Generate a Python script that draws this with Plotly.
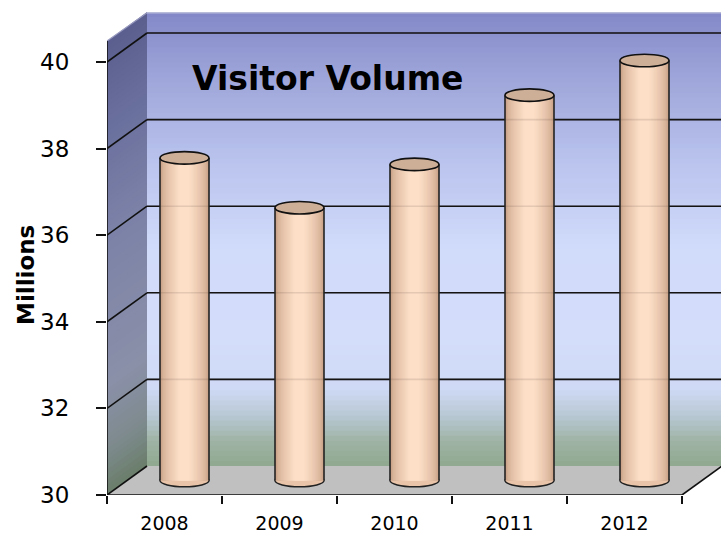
import plotly.graph_objects as go

# ---- data -------------------------------------------------------------
YEARS = [2008, 2009, 2010, 2011, 2012]
VISITORS = [37.45, 36.3, 37.3, 38.9, 39.7]      # millions of visitors
Y_TICKS = [30, 32, 34, 36, 38, 40]
TITLE = "Visitor Volume"
Y_TITLE = "Millions"

# ---- pseudo-3D scene geometry ----------------------------------------
FIG_W, FIG_H = 721, 537
ML, MR, MT, MB = 107, 0, 12, 42
PX_PER_CAT = 115.0          # horizontal pixels per category
PX_PER_UNIT = 43.3          # vertical pixels per million
Y_MIN = 30
X_MIN = YEARS[0] - 0.5
X_FRONT_MAX = YEARS[-1] + 0.5
X_MAX = X_MIN + (FIG_W - ML - MR) / PX_PER_CAT
Y_MAX = Y_MIN + (FIG_H - MT - MB) / PX_PER_UNIT
DX = 40 / PX_PER_CAT        # depth offset (x)
DY = 29 / PX_PER_UNIT       # depth offset (y)
WALL_TOP = Y_MAX - DY       # wall top in back-plane values
CYL_W = 49 / PX_PER_CAT
ELL_H = 12.5 / PX_PER_UNIT

BACK_STOPS = [(30.0, "#8fa88f"), (30.6, "#a0b4a6"), (31.1, "#b6c6d0"),
              (31.8, "#cfdaf6"), (33.0, "#d4defb"), (35.0, "#d1dbfa"),
              (37.0, "#bac4ee"), (39.0, "#9ea5d9"), (40.5, "#8288c7")]
SIDE_STOPS = [(30.0, "#6a7e6a"), (31.0, "#7d8a8c"), (32.5, "#8a90a8"),
              (36.0, "#7c82a7"), (38.5, "#6a709d"), (40.5, "#5a5e8e")]
CYL_EDGE = "#c89f85"
CYL_CENTER = "#fddfc7"
CYL_STEPS = 14


def hex2rgb(h):
    h = h.lstrip("#")
    return [int(h[i:i + 2], 16) for i in (0, 2, 4)]


def mix(ca, cb, t):
    c1, c2 = hex2rgb(ca), hex2rgb(cb)
    return "rgb(%d,%d,%d)" % tuple(round(p + (q - p) * t) for p, q in zip(c1, c2))


def grad(stops, v):
    if v <= stops[0][0]:
        return stops[0][1]
    for (a, ca), (b, cb) in zip(stops, stops[1:]):
        if a <= v <= b:
            return mix(ca, cb, (v - a) / (b - a))
    return stops[-1][1]


shapes = []
N = 90
step = (WALL_TOP - Y_MIN) / N
# back wall bands
for i in range(N):
    v0 = Y_MIN + i * step
    v1 = min(v0 + step * 1.6, WALL_TOP)
    shapes.append(dict(type="rect", layer="below", xref="x", yref="y",
                       x0=X_MIN + DX, x1=X_MAX, y0=v0 + DY, y1=v1 + DY,
                       fillcolor=grad(BACK_STOPS, v0 + step / 2), line_width=0))
# side wall bands (parallelograms)
for i in range(N):
    v0 = Y_MIN + i * step
    v1 = min(v0 + step * 1.6, WALL_TOP)
    path = "M %f %f L %f %f L %f %f L %f %f Z" % (
        X_MIN, v0, X_MIN + DX, v0 + DY, X_MIN + DX, v1 + DY, X_MIN, v1)
    shapes.append(dict(type="path", layer="below", xref="x", yref="y", path=path,
                       fillcolor=grad(SIDE_STOPS, v0 + step / 2), line_width=0))
# floor
shapes.append(dict(type="path", layer="below", xref="x", yref="y",
                   path="M %f %f L %f %f L %f %f L %f %f Z" % (
                       X_MIN, Y_MIN, X_FRONT_MAX, Y_MIN, X_FRONT_MAX + DX, Y_MIN + DY,
                       X_MIN + DX, Y_MIN + DY),
                   fillcolor="#c0c0c0", line_width=0))
# gridlines on back and side walls
for v in Y_TICKS:
    if v > Y_MIN:
        shapes.append(dict(type="line", layer="below", xref="x", yref="y",
                           x0=X_MIN + DX, x1=X_MAX, y0=v + DY, y1=v + DY,
                           line=dict(color="#111", width=1.6)))
    shapes.append(dict(type="line", layer="below", xref="x", yref="y",
                       x0=X_MIN, x1=X_MIN + DX, y0=v, y1=v + DY,
                       line=dict(color="#111", width=1.6)))
# wall top edges
shapes.append(dict(type="line", layer="below", xref="x", yref="y",
                   x0=X_MIN + DX, x1=X_MAX, y0=Y_MAX - 0.02, y1=Y_MAX - 0.02,
                   line=dict(color="#b8bcd8", width=1.5)))
shapes.append(dict(type="line", layer="below", xref="x", yref="y",
                   x0=X_MIN, x1=X_MIN + DX, y0=WALL_TOP, y1=Y_MAX - 0.02,
                   line=dict(color="#9a9cc0", width=1.2)))
# cylinder bottoms
for yr in YEARS:
    cx = yr + DX / 2
    cy = Y_MIN + DY / 2
    shapes.append(dict(type="circle", layer="below", xref="x", yref="y",
                       x0=cx - CYL_W / 2, x1=cx + CYL_W / 2,
                       y0=cy - ELL_H / 2, y1=cy + ELL_H / 2,
                       fillcolor="#e9c4a8", line=dict(color="#222", width=1.5)))
# faint gridlines seen through the translucent cylinders
for v in Y_TICKS[1:]:
    shapes.append(dict(type="line", layer="above", xref="x", yref="y",
                       x0=X_MIN + DX, x1=X_FRONT_MAX + DX, y0=v + DY, y1=v + DY,
                       line=dict(color="rgba(60,40,30,0.12)", width=1.6)))
# cylinder sides and tops
for yr, val in zip(YEARS, VISITORS):
    cx = yr + DX / 2
    for sx in (cx - CYL_W / 2, cx + CYL_W / 2):
        shapes.append(dict(type="line", layer="above", xref="x", yref="y",
                           x0=sx, x1=sx, y0=Y_MIN + DY / 2, y1=val + DY / 2,
                           line=dict(color="#222", width=1.6)))
    cy = val + DY / 2
    shapes.append(dict(type="circle", layer="above", xref="x", yref="y",
                       x0=cx - CYL_W / 2, x1=cx + CYL_W / 2,
                       y0=cy - ELL_H / 2, y1=cy + ELL_H / 2,
                       fillcolor="#cdae97", line=dict(color="#111", width=1.6)))
# front frame edges
shapes.append(dict(type="line", layer="above", xref="x", yref="y",
                   x0=X_MIN, x1=X_MIN, y0=Y_MIN, y1=WALL_TOP,
                   line=dict(color="#111", width=1.6)))
shapes.append(dict(type="line", layer="above", xref="x", yref="y",
                   x0=X_MIN, x1=X_FRONT_MAX, y0=Y_MIN, y1=Y_MIN,
                   line=dict(color="#111", width=1.6)))
shapes.append(dict(type="line", layer="above", xref="x", yref="y",
                   x0=X_FRONT_MAX, x1=X_FRONT_MAX + DX, y0=Y_MIN, y1=Y_MIN + DY,
                   line=dict(color="#111", width=1.6)))

fig = go.Figure()
base = [Y_MIN + DY / 2] * len(YEARS)
lengths = [v - Y_MIN for v in VISITORS]
# nested bars give the cylinders a rounded horizontal shading
for k in range(CYL_STEPS):
    frac = 1.0 - k * 0.8 / (CYL_STEPS - 1)
    t = (k / (CYL_STEPS - 1)) ** 0.6
    w = CYL_W * frac
    fig.add_trace(go.Bar(x=YEARS, y=lengths, base=base, width=w,
                         offset=DX / 2 - w / 2,
                         marker=dict(color=mix(CYL_EDGE, CYL_CENTER, t), line_width=0),
                         showlegend=False, hoverinfo="skip"))

fig.update_layout(
    width=FIG_W, height=FIG_H,
    margin=dict(l=ML, r=MR, t=MT, b=MB),
    paper_bgcolor="white", plot_bgcolor="white",
    barmode="overlay", showlegend=False,
    shapes=shapes,
    font=dict(family="DejaVu Sans", color="#000"),
    xaxis=dict(range=[X_MIN, X_MAX], tickvals=YEARS, ticktext=[str(y) for y in YEARS],
               ticks="", showgrid=False, zeroline=False, showline=False,
               tickfont=dict(size=19), ticklabelstandoff=15,
               minor=dict(tickvals=[y - 0.5 for y in YEARS] + [YEARS[-1] + 0.5],
                          ticks="outside", ticklen=8, tickwidth=1.5, tickcolor="#111",
                          showgrid=False)),
    yaxis=dict(range=[Y_MIN, Y_MAX], tickvals=Y_TICKS, ticks="outside", ticklen=10,
               tickwidth=1.5, tickcolor="#111", showgrid=False, zeroline=False,
               showline=False, tickfont=dict(size=23), ticklabelstandoff=22),
    annotations=[
        dict(text="<b>%s</b>" % TITLE, xref="paper", yref="paper",
             x=(327 - ML) / (FIG_W - ML - MR), y=(FIG_H - MB - 79) / (FIG_H - MT - MB),
             xanchor="center", yanchor="middle", showarrow=False,
             font=dict(size=33, family="DejaVu Sans", color="#000")),
        dict(text="<b>%s</b>" % Y_TITLE, xref="paper", yref="paper",
             x=(26 - ML) / (FIG_W - ML - MR), y=(FIG_H - MB - 275) / (FIG_H - MT - MB),
             xanchor="center", yanchor="middle", textangle=-90, showarrow=False,
             font=dict(size=23, family="DejaVu Sans", color="#000")),
    ],
)

fig.write_html("out.html")
